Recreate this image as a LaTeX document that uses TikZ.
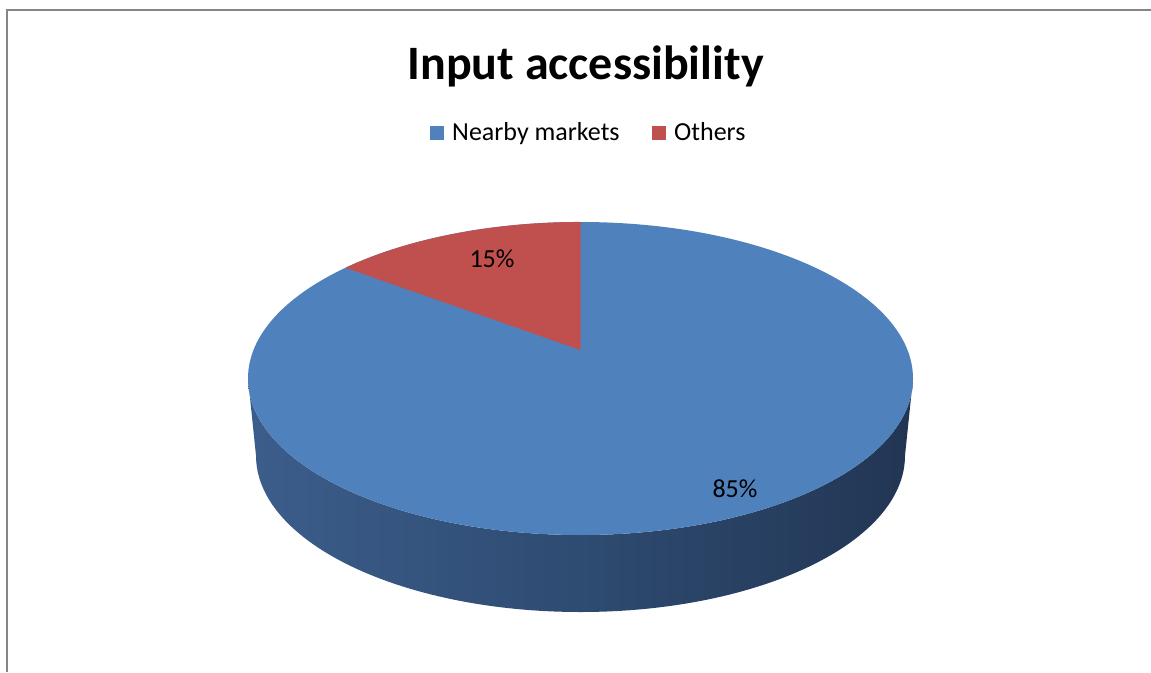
\documentclass[tikz,border=0pt]{standalone}
\usepackage{fontspec}
\setmainfont{Carlito}
\usetikzlibrary{positioning}
\definecolor{nearby}{HTML}{4F81BD}
\definecolor{others}{HTML}{C0504D}
\definecolor{sideA}{HTML}{4A70A6}
\definecolor{sideB}{HTML}{2E4B71}
\definecolor{sideC}{HTML}{1E2F4A}
\definecolor{frame}{HTML}{868686}
\pgfdeclarehorizontalshading{pieside}{100bp}{color(0bp)=(sideA); color(50bp)=(sideB); color(83bp)=(sideC); color(100bp)=(sideC)}
\tikzset{
  lgbox/.style={fill=#1, minimum size=14pt, inner sep=0pt},
  lgtext/.style={anchor=base west, inner sep=0pt, font=\fontsize{26}{30}\selectfont},
  pct/.style={inner sep=0pt, font=\fontsize{26}{30}\selectfont}
}
\begin{document}
\begin{tikzpicture}[x=1pt,y=-1pt]
		\useasboundingbox (0,0) rectangle (1151,672);
		\fill[white] (0,0) rectangle (1151,672);
		\draw[frame, line width=2pt] (7,672) -- (7,10) -- (1151,10);
		% title and legend
		\node[anchor=base, inner sep=0pt, font=\fontsize{48}{58}\selectfont\bfseries] (title) at (585.5,79) {Input accessibility};
		\node[lgbox=nearby] (sqnearby) at (437,133) {};
		\node[lgtext] (lgnearby) at (452,140) {Nearby markets};
		\node[lgbox=others] (sqothers) at (659,133) {};
		\node[lgtext] (lgothers) at (674,140) {Others};
		% side of the pie
		\shade[shading=pieside] (248,378.5) arc[start angle=180, end angle=0, x radius=332.5, y radius=156.5]
			-- (905,455.5) arc[start angle=0, end angle=180, x radius=324.5, y radius=156.5] -- cycle;
		% top face
		\fill[nearby] (580.5,378.5) ellipse[x radius=332.5, y radius=156.5];
		\fill[others] (580.5,350) -- (345.4,267.8) arc[start angle=225, end angle=270, x radius=332.5, y radius=156.5] -- cycle;
		\node[pct] (pcothers) at (492,259) {15\%};
		\node[pct] (pcnearby) at (735,489) {85\%};
		\end{tikzpicture}
\end{document}
